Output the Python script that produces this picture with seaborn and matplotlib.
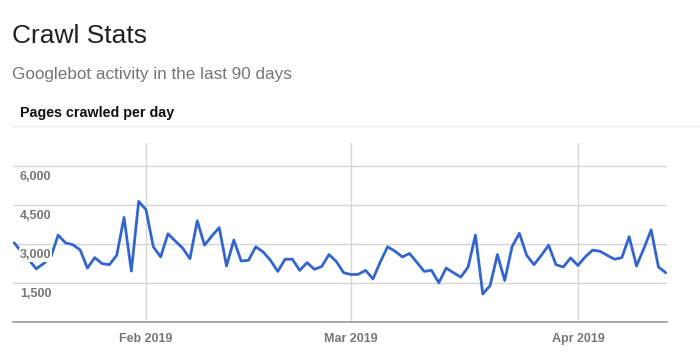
import pandas as pd
import seaborn as sns
import matplotlib.pyplot as plt
import matplotlib.dates as mdates

# Pages crawled per day, 14 Jan 2019 .. 13 Apr 2019
start_date = '2019-01-14'
pages = [3050, 2700, 2400, 2050, 2250, 2500, 3350, 3050, 2980, 2780,
         2080, 2480, 2250, 2210, 2570, 4030, 1960, 4650, 4330, 2900,
         2510, 3400, 3120, 2850, 2440, 3900, 2960, 3320, 3640, 2160,
         3160, 2350, 2380, 2900, 2700, 2380, 1950, 2420, 2420, 1990,
         2290, 2030, 2140, 2600, 2330, 1900, 1830, 1840, 1990, 1660,
         2310, 2900, 2730, 2510, 2640, 2300, 1950, 1990, 1510, 2080,
         1900, 1730, 2120, 3350, 1080, 1400, 2600, 1600, 2900, 3420,
         2570, 2210, 2570, 2960, 2210, 2120, 2470, 2180, 2510, 2770,
         2730, 2570, 2420, 2480, 3290, 2160, 2830, 3550, 2120, 1900]
y_ticks = [1500, 3000, 4500, 6000]
month_ticks = ['2019-02-01', '2019-03-01', '2019-04-01']

df = pd.DataFrame({'date': pd.date_range(start_date, periods=len(pages), freq='D'),
                   'pages': pages})

sns.set_style('white')
plt.rcParams['font.family'] = ['Liberation Sans', 'DejaVu Sans']

fig = plt.figure(figsize=(7, 3.62), dpi=100)

# header texts
fig.text(12 / 700, 1 - 43 / 362, 'Crawl Stats', fontsize=19, color='#222222', va='baseline')
fig.text(12 / 700, 1 - 79 / 362, 'Googlebot activity in the last 90 days', fontsize=12.3,
         color='#757575', va='baseline')
fig.text(20 / 700, 1 - 117 / 362, 'Pages crawled per day', fontsize=10.3, fontweight='bold',
         color='#111111', va='baseline')
fig.add_artist(plt.Line2D([12 / 700, 1], [1 - 126 / 362] * 2, color='#eeeeee', lw=1))

ax = fig.add_axes([13 / 700, 40 / 362, 654 / 700, 179 / 362])
sns.lineplot(data=df, x='date', y='pages', ax=ax, color='#3366cc', linewidth=2.0)

ax.set_ylim(0, 6900)
ax.set_xlim(df['date'].iloc[0] - pd.Timedelta(hours=4), df['date'].iloc[-1] + pd.Timedelta(hours=4))
ax.set_yticks(y_ticks)
ax.set_yticklabels([])
ax.set_xticks(pd.to_datetime(month_ticks))
ax.xaxis.set_major_formatter(mdates.DateFormatter('%b %Y'))
ax.tick_params(axis='x', length=0, pad=8, labelsize=9, labelcolor='#777777')
ax.tick_params(axis='y', length=0)
for lab in ax.get_xticklabels():
    lab.set_fontweight('bold')

ax.grid(True, color='#d6d6d6', lw=1)
ax.set_axisbelow(True)
for s in ['top', 'right', 'left']:
    ax.spines[s].set_visible(False)
ax.spines['bottom'].set_color('#999999')
ax.spines['bottom'].set_linewidth(1.2)
ax.set_xlabel('')
ax.set_ylabel('')

# y labels sit inside the plot, just under each gridline, over the line
for v in y_ticks:
    ax.annotate(f'{v:,}', xy=(0, v), xycoords=('axes fraction', 'data'),
                xytext=(5, -3.5), textcoords='offset points', ha='left', va='top',
                fontsize=9, fontweight='bold', color='#777777', zorder=5,
                bbox=dict(facecolor='white', edgecolor='none', pad=0.6))

fig.savefig('out.png', dpi=100)
